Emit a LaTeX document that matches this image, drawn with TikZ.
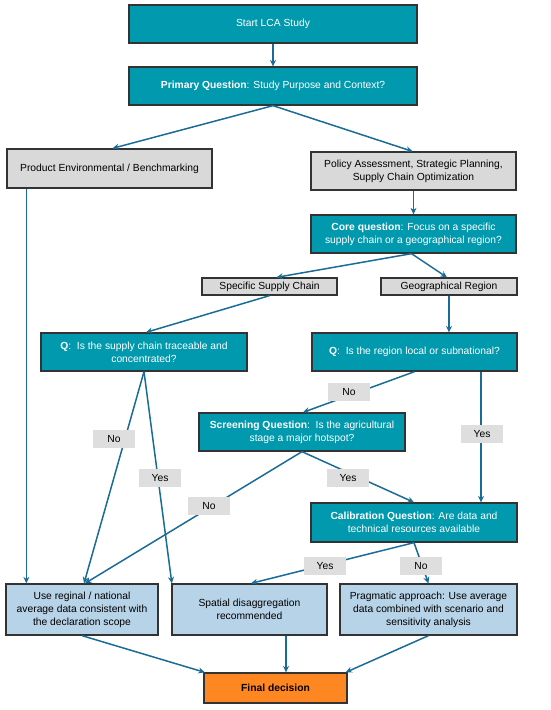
\documentclass[tikz,border=0pt]{standalone}
\usepackage{fontspec}
\setmainfont{Liberation Sans}
\usetikzlibrary{arrows.meta,calc}
\definecolor{teal}{HTML}{0099AD}
\definecolor{boxgray}{HTML}{D9D9D9}
\definecolor{labgray}{HTML}{DEDEDE}
\definecolor{lblue}{HTML}{B7D3E8}
\definecolor{orng}{HTML}{FF8722}
\definecolor{linec}{HTML}{1A6B96}
\definecolor{bord}{HTML}{333333}
\begin{document}
\begin{tikzpicture}[x=1pt,y=-1pt,
  base/.style={draw=bord,line width=1.3pt,inner sep=0pt,align=center,
    font=\fontsize{10.3}{13}\selectfont},
  tealbox/.style={base,fill=teal,text=white},
  graybox/.style={base,fill=boxgray},
  bluebox/.style={base,fill=lblue},
  finalbox/.style={base,fill=orng},
  lab/.style={fill=labgray,inner sep=0pt,minimum width=42pt,minimum height=18pt,
    font=\fontsize{10.3}{13}\selectfont},
  arr/.style={draw=linec,line width=1.5pt,-{Stealth[length=6.5pt,width=6pt]}},
  ln/.style={draw=linec,line width=1.5pt}]
\useasboundingbox (0,0) rectangle (550,710);

\node[tealbox,minimum width=288pt,minimum height=38pt] (start) at (273,24) {Start LCA Study};
\node[tealbox,minimum width=288pt,minimum height=38pt] (prim) at (273,86) {\textbf{Primary Question}: Study Purpose and Context?};
\node[graybox,minimum width=205pt,minimum height=39pt] (prod) at (109.5,168.5) {Product Environmental / Benchmarking};
\node[graybox,minimum width=205pt,minimum height=38pt] (pol) at (413.5,171) {Policy Assessment, Strategic Planning,\\Supply Chain Optimization};
\node[tealbox,minimum width=205pt,minimum height=38pt] (core) at (413.5,234) {\textbf{Core question}: Focus on a specific\\supply chain or a geographical region?};
\node[graybox,minimum width=135pt,minimum height=17pt] (ssc) at (269.5,286.5) {Specific Supply Chain};
\node[graybox,minimum width=136pt,minimum height=17pt] (geo) at (449,286.5) {Geographical Region};
\node[tealbox,minimum width=206pt,minimum height=38pt] (q1) at (144,352) {\textbf{Q}:\ \ Is the supply chain traceable and\\concentrated?};
\node[tealbox,minimum width=205pt,minimum height=38pt] (q2) at (414.5,352) {\textbf{Q}:\ \ Is the region local or subnational?};
\node[tealbox,minimum width=206pt,minimum height=38pt] (scr) at (302,432) {\textbf{Screening Question}:\ \ Is the agricultural\\stage a major hotspot?};
\node[tealbox,minimum width=206pt,minimum height=39pt] (cal) at (414,522.5) {\textbf{Calibration Question}: Are data and\\technical resources available};
\node[bluebox,minimum width=152pt,minimum height=51pt] (use) at (82,609.5) {Use reginal / national\\average data consistent with\\the declaration scope};
\node[bluebox,minimum width=155pt,minimum height=51pt] (spa) at (249.5,609.5) {Spatial disaggregation\\recommended};
\node[bluebox,minimum width=177pt,minimum height=51pt] (prag) at (428.5,609.5) {Pragmatic approach: Use average\\data combined with scenario and\\sensitivity analysis};
\node[finalbox,minimum width=143pt,minimum height=30pt] (final) at (275.5,688) {\textbf{Final decision}};

% connectors
\draw[arr] (start.south) -- (prim.north);
\draw[arr] (prim.south) -- ([xshift=3pt]prod.north);
\draw[arr] (prim.south) -- ([xshift=-1pt]pol.north);
\draw[arr] (pol.south) -- (core.north);
\draw[arr] ([xshift=-2pt]core.south) -- ([xshift=7pt]ssc.north);
\draw[arr] ([xshift=-2pt]core.south) -- ([xshift=-2pt]geo.north);
\draw[arr] (ssc.south) -- ([xshift=2pt]q1.north);
\draw[arr] (geo.south) -- (geo.south |- q2.north);
\draw[arr] ([xshift=20pt]prod.south west) -- ([xshift=20pt]prod.south west |- use.north);
\draw[arr] (q1.south) -- ([xshift=2pt]use.north);
\draw[arr] (q1.south) -- ([xshift=0.5pt]spa.north west);
\draw[arr] (q2.south) -- ([xshift=1pt]scr.north);
\draw[arr] ([xshift=66.5pt]q2.south) -- ([xshift=66.5pt]q2.south |- cal.north);
\draw[arr] (scr.south) -- ([xshift=3pt]use.north);
\draw[arr] (scr.south) -- (cal.north);
\draw[arr] (cal.south) -- ([xshift=1.5pt]spa.north);
\draw[arr] (cal.south) -- (prag.north);
\draw[arr] (use.south) -- ([xshift=1.5pt]final.north west);
\draw[arr] ([xshift=36.5pt]spa.south) -- ([xshift=36.5pt]spa.south |- final.north);
\draw[arr] (prag.south) -- ([xshift=-2pt]final.north east);

% edge labels
\node[lab] (l1) at (349,392) {No};
\node[lab] (l2) at (482,434) {Yes};
\node[lab] (l3) at (114,439) {No};
\node[lab] (l4) at (160,478) {Yes};
\node[lab] (l5) at (348,478) {Yes};
\node[lab] (l6) at (209,506) {No};
\node[lab] (l7) at (325,566) {Yes};
\node[lab] (l8) at (421,566) {No};
\end{tikzpicture}
\end{document}
